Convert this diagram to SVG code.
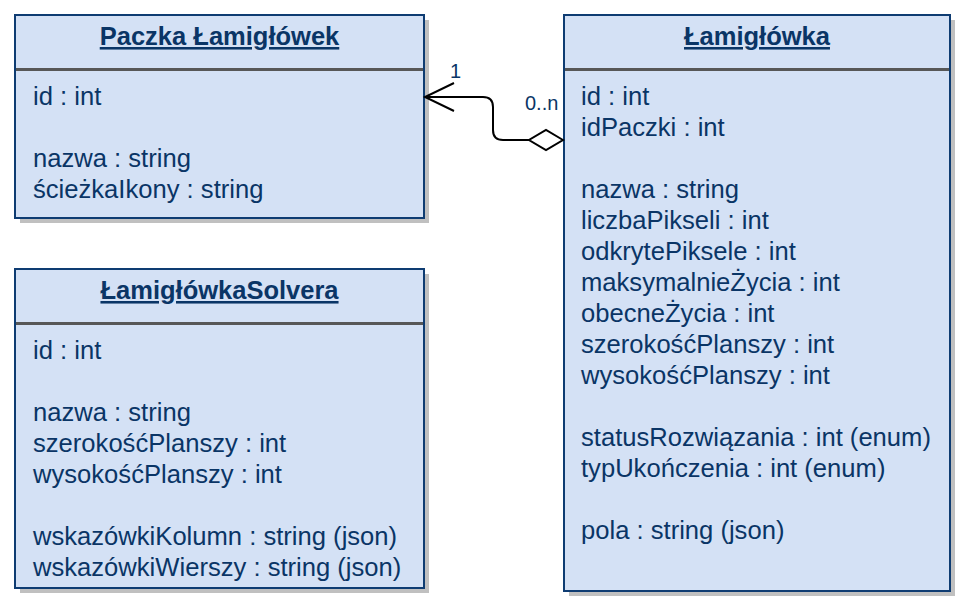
<svg xmlns="http://www.w3.org/2000/svg" width="976" height="615" viewBox="0 0 976 615">
<style>
.shadow{fill:#c0c0c0;}
.box{fill:#d4e1f5;stroke:#0e3c72;stroke-width:2;}
.div{stroke:#575757;stroke-width:3;}
.title{font-family:"Liberation Sans",Arial,sans-serif;font-size:25.5px;font-weight:bold;fill:#0a3566;text-anchor:middle;text-decoration:underline;}
.attr{font-family:"Liberation Sans",Arial,sans-serif;font-size:25.6px;fill:#0a3566;}
.lbl{font-family:"Liberation Sans",Arial,sans-serif;font-size:20px;fill:#0a3566;}
.conn{fill:none;stroke:#000;stroke-width:2;}
</style>
<rect width="976" height="615" fill="#fff"/>
<g id="paczka">
<rect class="shadow" x="20" y="20" width="409" height="203"/>
<rect class="box" x="15" y="15" width="409" height="203"/>
<line class="div" x1="16" y1="69.5" x2="423" y2="69.5"/>
<text class="title" x="219.5" y="45">Paczka Łamigłówek</text>
<text class="attr" x="33" y="105">id : int</text>
<text class="attr" x="33" y="167">nazwa : string</text>
<text class="attr" x="33" y="198">ścieżkaIkony : string</text>
</g>
<g id="solver">
<rect class="shadow" x="20" y="274" width="409" height="319"/>
<rect class="box" x="15" y="269" width="409" height="319"/>
<line class="div" x1="16" y1="323.5" x2="423" y2="323.5"/>
<text class="title" x="219.5" y="299">ŁamigłówkaSolvera</text>
<text class="attr" x="33" y="359">id : int</text>
<text class="attr" x="33" y="421">nazwa : string</text>
<text class="attr" x="33" y="452">szerokośćPlanszy : int</text>
<text class="attr" x="33" y="483">wysokośćPlanszy : int</text>
<text class="attr" x="33" y="545">wskazówkiKolumn : string (json)</text>
<text class="attr" x="33" y="576">wskazówkiWierszy : string (json)</text>
</g>
<g id="lamiglowka">
<rect class="shadow" x="569" y="20" width="386" height="576"/>
<rect class="box" x="564" y="15" width="386" height="576"/>
<line class="div" x1="565" y1="69.5" x2="949" y2="69.5"/>
<text class="title" x="757" y="45">Łamigłówka</text>
<text class="attr" x="581" y="105">id : int</text>
<text class="attr" x="581" y="136">idPaczki : int</text>
<text class="attr" x="581" y="198">nazwa : string</text>
<text class="attr" x="581" y="229">liczbaPikseli : int</text>
<text class="attr" x="581" y="260">odkrytePiksele : int</text>
<text class="attr" x="581" y="291">maksymalnieŻycia : int</text>
<text class="attr" x="581" y="322">obecneŻycia : int</text>
<text class="attr" x="581" y="353">szerokośćPlanszy : int</text>
<text class="attr" x="581" y="384">wysokośćPlanszy : int</text>
<text class="attr" x="581" y="446">statusRozwiązania : int (enum)</text>
<text class="attr" x="581" y="477">typUkończenia : int (enum)</text>
<text class="attr" x="581" y="539">pola : string (json)</text>
</g>
<g id="connectors">
<path class="conn" d="M425,97 H483 Q493,97 493,107 V130 Q493,140 503,140 H529"/>
<path class="conn" d="M454,83 L425,97 L454,111"/>
<path class="conn" d="M563,140 L546,130 L529,140 L546,150 Z" style="fill:#fff"/>
<text class="lbl" x="450" y="78">1</text>
<text class="lbl" x="525" y="110">0..n</text>
</g>
</svg>
